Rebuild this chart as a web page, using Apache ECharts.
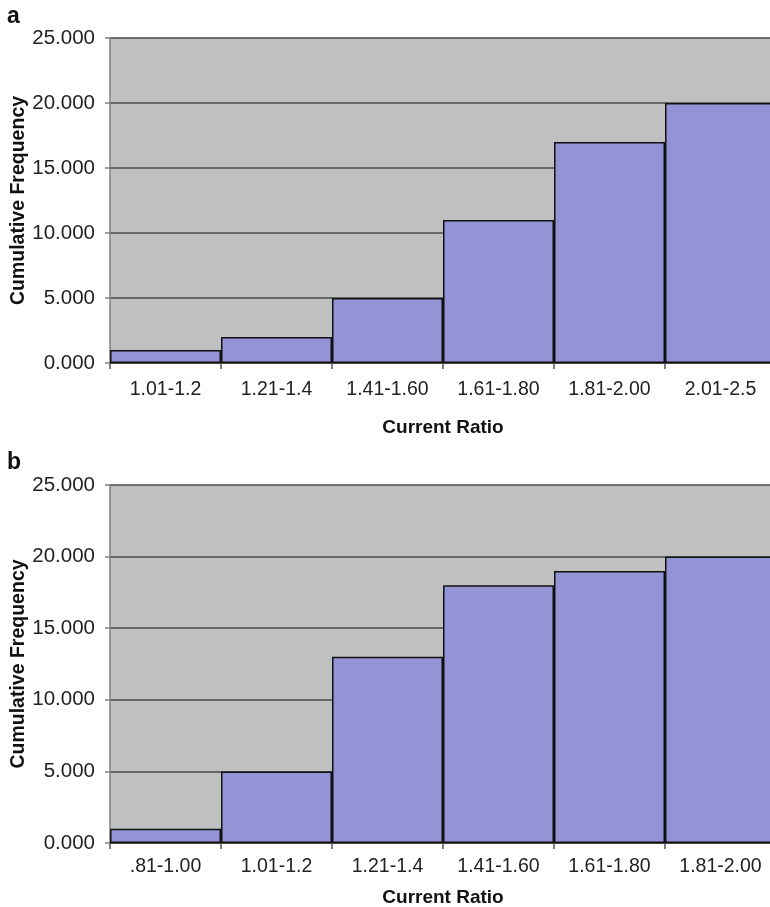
<!DOCTYPE html>
<html><head><meta charset="utf-8">
<script src="https://cdn.jsdelivr.net/npm/echarts@6/dist/echarts.min.js"></script>
<style>html,body{margin:0;padding:0;background:#fff}#c{width:770px;height:907px}</style>
</head><body><div id="c"></div>
<script>
const categoriesA = ['1.01-1.2','1.21-1.4','1.41-1.60','1.61-1.80','1.81-2.00','2.01-2.5'];
const valuesA = [1, 2, 5, 11, 17, 20];
const categoriesB = ['.81-1.00','1.01-1.2','1.21-1.4','1.41-1.60','1.61-1.80','1.81-2.00'];
const valuesB = [1, 5, 13, 18, 19, 20];
const yTicks = [0, 5, 10, 15, 20, 25];
const xName = 'Current Ratio';
const yName = 'Cumulative Frequency';
const panelLabels = ['a', 'b'];

const font = 'Liberation Sans, Arial, sans-serif';
const chart = echarts.init(document.getElementById('c'));
function xAxis(idx, cats, gap, margin) {
  return {
    type: 'category', gridIndex: idx, data: cats,
    name: xName, nameLocation: 'middle', nameGap: gap, nameMoveOverlap: false,
    nameTextStyle: {fontFamily: font, fontWeight: 'bold', fontSize: 19, color: '#111'},
    axisLine: {show: true, lineStyle: {color: '#333', width: 1.5}},
    axisTick: {show: true, length: 6, lineStyle: {color: '#555', width: 1.5}},
    axisLabel: {fontFamily: font, fontSize: 19.5, color: '#222', margin: margin, interval: 0}
  };
}
function yAxis(idx) {
  return {
    type: 'value', gridIndex: idx, min: 0, max: 25, interval: 5,
    name: yName, nameLocation: 'middle', nameGap: 81, nameRotate: 90, nameMoveOverlap: false,
    nameTextStyle: {fontFamily: font, fontWeight: 'bold', fontSize: 19.5, color: '#111'},
    axisLine: {show: true, lineStyle: {color: '#808080', width: 1.5}},
    axisTick: {show: true, length: 5, lineStyle: {color: '#808080', width: 1.5}},
    axisLabel: {fontFamily: font, fontSize: 20.5, color: '#222', margin: 15,
      formatter: v => yTicks.includes(v) ? v.toFixed(3) : ''},
    splitLine: {show: true, lineStyle: {color: '#4a4a4a', width: 1.5}}
  };
}
function bars(idx, vals) {
  return {
    type: 'bar', xAxisIndex: idx, yAxisIndex: idx, data: vals,
    barWidth: '100%', barCategoryGap: 0,
    itemStyle: {color: '#9393d6', borderColor: '#111', borderWidth: 1.5},
    silent: true
  };
}
chart.setOption({
  animation: false,
  graphic: [
    {type: 'text', left: 7, top: 5, style: {text: panelLabels[0], font: 'bold 23px ' + font, fill: '#111'}},
    {type: 'text', left: 7, top: 451, style: {text: panelLabels[1], font: 'bold 23px ' + font, fill: '#111'}}
  ],
  grid: [
    {left: 110, top: 38, width: 666, height: 325, show: true, backgroundColor: '#c0c0c0', borderWidth: 0, outerBoundsMode: 'none', containLabel: false},
    {left: 110, top: 485, width: 666, height: 358, show: true, backgroundColor: '#c0c0c0', borderWidth: 0, outerBoundsMode: 'none', containLabel: false}
  ],
  xAxis: [xAxis(0, categoriesA, 55, 17), xAxis(1, categoriesB, 45, 14)],
  yAxis: [yAxis(0), yAxis(1)],
  series: [bars(0, valuesA), bars(1, valuesB)]
});
</script></body></html>
